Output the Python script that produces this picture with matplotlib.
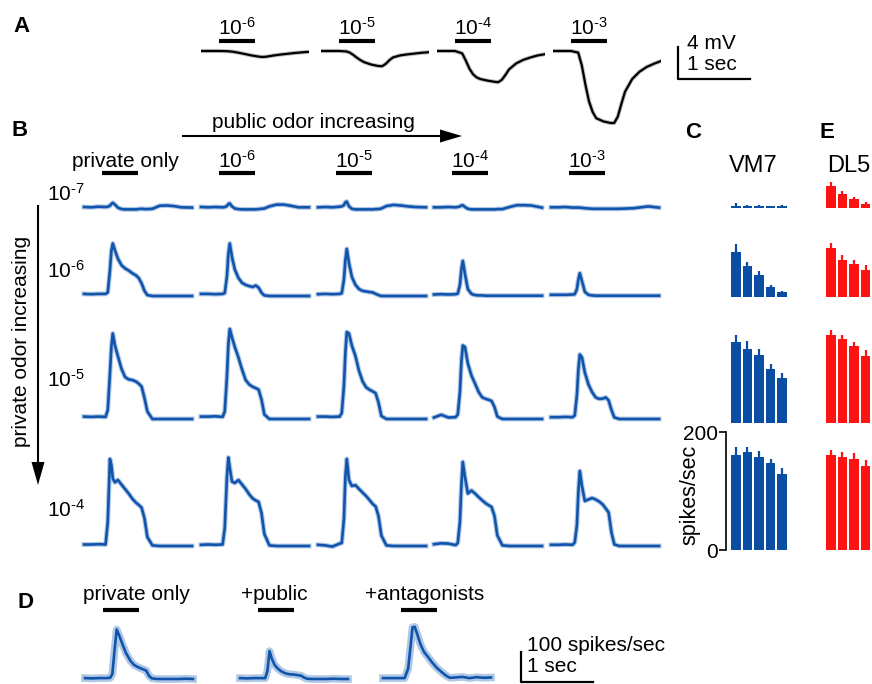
import matplotlib
matplotlib.use('Agg')
import matplotlib.pyplot as plt

plt.rcParams['font.family'] = ['Liberation Sans', 'DejaVu Sans']
plt.rcParams['mathtext.fontset'] = 'custom'
plt.rcParams['mathtext.rm'] = 'Liberation Sans'
plt.rcParams['mathtext.it'] = 'Liberation Sans:italic'
plt.rcParams['mathtext.bf'] = 'Liberation Sans:bold'

# ---------------- data ----------------
conc_public = [r'$10^{\text{-6}}$', r'$10^{\text{-5}}$', r'$10^{\text{-4}}$', r'$10^{\text{-3}}$']
conc_private = [r'$10^{\text{-7}}$', r'$10^{\text{-6}}$', r'$10^{\text{-5}}$', r'$10^{\text{-4}}$']
ODOR_ON, ODOR_OFF = 0.25, 0.75   # s

# Panel A: membrane potential (mV) vs time (s)
tA = [0, 0.25, 0.35, 0.4, 0.45, 0.5, 0.55, 0.6, 0.7, 0.8, 0.85, 0.9, 0.95, 1.0, 1.1, 1.2, 1.3, 1.4, 1.5]
vA_1 = [0, 0, -0.02, -0.05, -0.1, -0.18, -0.27, -0.36, -0.55, -0.7, -0.75, -0.72, -0.65, -0.57, -0.45, -0.35, -0.25, -0.17, -0.1]
vA_2 = [0, 0, -0.05, -0.2, -0.5, -0.85, -1.15, -1.4, -1.7, -1.88, -1.9, -1.6, -1.15, -0.8, -0.55, -0.42, -0.32, -0.22, -0.15]
vA_3 = [0, 0, -0.3, -1.2, -2.2, -2.9, -3.3, -3.5, -3.7, -3.85, -3.9, -3.6, -3.0, -2.3, -1.55, -1.1, -0.8, -0.55, -0.4]
vA_4 = [0, 0, -0.2, -1.8, -4.2, -6.3, -7.6, -8.4, -8.8, -9.0, -9.0, -8.2, -6.6, -5.1, -3.5, -2.6, -2.0, -1.6, -1.25]
SCALE_A_MV, SCALE_SEC = 4, 1

# Panel B: PSTHs (spikes/s); rows = private conc, cols = public conc
tB = [0.00, 0.10, 0.20, 0.30, 0.33, 0.36, 0.38, 0.40, 0.43, 0.47, 0.52, 0.57, 0.62,
      0.67, 0.72, 0.76, 0.80, 0.84, 0.88, 0.95, 1.05, 1.15, 1.25, 1.35, 1.50]
B_r1 = [
    [10, 9, 11, 10, 11, 14, 20, 24, 18, 8, 3, 2, 2, 2, 2, 3, 4, 3, 3, 4, 14, 15, 13, 9, 8],
    [10, 9, 10, 9, 10, 13, 20, 22, 12, 5, 3, 2, 2, 2, 2, 2, 3, 4, 5, 12, 18, 18, 14, 9, 9],
    [9, 10, 9, 11, 12, 16, 26, 28, 12, 4, 2, 2, 2, 2, 2, 2, 3, 3, 5, 13, 17, 15, 12, 10, 9],
    [9, 9, 10, 9, 10, 12, 15, 16, 10, 4, 2, 2, 2, 2, 2, 2, 2, 2, 3, 3, 10, 16, 16, 15, 8],
    [9, 9, 10, 8, 8, 8, 8, 8, 7, 6, 5, 4, 4, 4, 4, 4, 4, 4, 4, 4, 5, 6, 9, 12, 8],
]
B_r2 = [
    [7, 6, 7, 7, 12, 85, 150, 175, 152, 125, 103, 92, 85, 76, 69, 60, 42, 17, 3, 0, 0, 0, 0, 0, 0],
    [7, 7, 6, 7, 10, 65, 140, 175, 130, 88, 60, 44, 37, 33, 30, 35, 28, 11, 2, 0, 0, 0, 0, 0, 0],
    [6, 7, 6, 7, 9, 55, 120, 157, 110, 64, 37, 23, 17, 15, 13, 12, 7, 3, 0, 0, 0, 0, 0, 0, 0],
    [5, 6, 5, 6, 8, 37, 88, 117, 74, 23, 7, 3, 2, 2, 1, 1, 1, 1, 1, 1, 1, 1, 1, 1, 1],
    [4, 4, 4, 5, 6, 23, 55, 76, 50, 14, 4, 2, 1, 1, 1, 1, 1, 1, 1, 1, 1, 1, 1, 1, 1],
]
B_r3 = [
    [8, 7, 8, 7, 30, 150, 240, 285, 245, 210, 168, 140, 132, 130, 125, 118, 108, 70, 25, 0, 0, 0, 0, 0, 0],
    [8, 8, 9, 7, 25, 140, 250, 300, 272, 240, 205, 165, 130, 115, 107, 103, 98, 65, 15, 0, 0, 0, 0, 0, 0],
    [8, 8, 7, 8, 20, 110, 220, 290, 285, 245, 210, 160, 125, 105, 97, 92, 86, 55, 10, 0, 0, 0, 0, 0, 0],
    [5, 14, 5, 6, 15, 90, 190, 245, 240, 185, 145, 118, 90, 72, 67, 64, 60, 40, 8, 0, 0, 0, 0, 0, 0],
    [6, 6, 7, 6, 12, 80, 165, 215, 205, 155, 115, 90, 72, 67, 68, 72, 62, 30, 5, 0, 0, 0, 0, 0, 0],
]
B_r4 = [
    [5, 5, 6, 5, 80, 290, 270, 225, 212, 220, 205, 190, 175, 158, 145, 137, 128, 92, 30, 2, 0, 0, 0, 0, 0],
    [4, 5, 4, 5, 60, 230, 295, 260, 215, 210, 220, 205, 190, 172, 158, 152, 147, 110, 40, 2, 0, 0, 0, 0, 0],
    [4, 2, -2, 8, 10, 90, 230, 290, 220, 200, 203, 190, 178, 166, 152, 140, 132, 100, 35, 2, 0, 0, 0, 0, 0],
    [6, 9, 8, 3, 10, 80, 200, 280, 230, 175, 185, 175, 163, 152, 142, 136, 130, 100, 35, 2, 0, 0, 0, 0, 0],
    [4, 4, 5, 4, 12, 70, 180, 250, 200, 150, 155, 160, 155, 148, 138, 125, 112, 45, 5, 0, 0, 0, 0, 0, 0],
]
B_rows = [B_r1, B_r2, B_r3, B_r4]

# Panel C / E: mean spikes/s per row (private conc) x public conc
vm7 = [[4, 4, 4, 3, 3],
       [76, 53, 37, 17, 8],
       [137, 125, 115, 92, 76],
       [161, 166, 158, 147, 129]]
vm7_err = [[4, 1, 1, 1, 2],
           [14, 7, 7, 3, 3],
           [12, 14, 10, 8, 8],
           [14, 8, 10, 8, 10]]
dl5 = [[37, 24, 15, 7],
       [83, 63, 56, 46],
       [149, 142, 130, 114],
       [161, 158, 154, 142]]
dl5_err = [[7, 4, 4, 3],
           [8, 8, 7, 8],
           [8, 8, 8, 10],
           [8, 8, 10, 10]]

# Panel D
tD = [0.00, 0.10, 0.20, 0.30, 0.35, 0.38, 0.41, 0.44, 0.48, 0.52, 0.57, 0.63,
      0.68, 0.74, 0.80, 0.85, 0.89, 0.93, 1.00, 1.10, 1.20, 1.30, 1.40, 1.50]
D_private = [3, 2, 3, 3, 4, 17, 95, 165, 142, 116, 86, 61, 47, 39, 33, 28, 10, 2, 0, 0, 0, 0, 1, 0]
D_public = [3, 2, 3, 3, 3, 26, 93, 69, 47, 36, 26, 19, 16, 15, 13, 11, 5, 1, 0, 0, 0, 1, 0, 0]
D_antag = [3, 3, 3, 3, 35, 103, 172, 174, 146, 116, 90, 72, 56, 39, 26, 16, 9, 4, 5, 7, 3, 6, 4, 5]
D_labels = ['private only', '+public', '+antagonists']
D_label_t = [0.72, 0.48, 0.58]
SCALE_RATE = 100

# ---------------- styling / layout ----------------
BLUE = '#1055AB'
BLUE_L = '#8FB0DC'
BAR_BLUE = '#0A4EA3'
RED = '#FF1212'
FS = 15
W, H = 872, 684
PX_T = 72.0      # px per second
PX_R = 0.3       # px per spike/s
PX_MV = 8.0      # px per mV
PX_B = 0.59      # px per spike/s in bar plots

fig = plt.figure(figsize=(W / 100, H / 100), dpi=100)


def px_axes(x0, y_top, w, h):
    ax = fig.add_axes([x0 / W, 1 - (y_top + h) / H, w / W, h / H])
    ax.set_axis_off()
    return ax


def trace(ax, t, v, shade_w=4.5):
    ax.plot(t, v, color=BLUE_L, lw=shade_w, alpha=0.7, solid_joinstyle='round', clip_on=False)
    ax.plot(t, v, color=BLUE, lw=1.9, solid_joinstyle='round', clip_on=False)


def stim(ax, y, label, lx, ly):
    ax.plot([ODOR_ON, ODOR_OFF], [y, y], color='k', lw=3, solid_capstyle='butt', clip_on=False)
    ax.text(lx, ly, label, ha='center', va='center', fontsize=FS)


# overlay for annotations (pixel coords)
ov = fig.add_axes([0, 0, 1, 1])
ov.set_xlim(0, W)
ov.set_ylim(H, 0)
ov.set_axis_off()

# ---- Panel A ----
A_LEFT = [201, 321, 437, 553]
A_BASE = 51
for i, v in enumerate([vA_1, vA_2, vA_3, vA_4]):
    ax = px_axes(A_LEFT[i], A_BASE - 4 * PX_MV, 1.5 * PX_T, 14 * PX_MV)
    ax.set_xlim(0, 1.5)
    ax.set_ylim(-10, 4)
    ax.plot(tA, v, color='#999999', lw=3.0, alpha=0.6)
    ax.plot(tA, v, color='k', lw=1.6)
    stim(ax, 1.25, conc_public[i], 0.5, 2.9)

axs = px_axes(678, 79 - 5 * PX_MV, 1.5 * PX_T, 5 * PX_MV)
axs.set_xlim(0, 1.5)
axs.set_ylim(0, 5)
axs.plot([0, 0, SCALE_SEC], [SCALE_A_MV, 0, 0], color='k', lw=1.6, clip_on=False)
axs.text(0.12, 4.4, f'{SCALE_A_MV} mV', fontsize=FS, va='center', ha='left')
axs.text(0.12, 1.75, f'{SCALE_SEC} sec', fontsize=FS, va='center', ha='left')

# ---- Panel B ----
B_LEFT = [84, 201, 318, 434, 551]
B_BASE = [210, 296, 419, 546]
col_labels = ['private only'] + conc_public
for r in range(4):
    for c in range(5):
        ax = px_axes(B_LEFT[c], B_BASE[r] - 320 * PX_R, 1.5 * PX_T, 330 * PX_R)
        ax.set_xlim(0, 1.5)
        ax.set_ylim(-10, 320)
        trace(ax, tB, B_rows[r][c], shade_w=3.5)
        if r == 0:
            stim(ax, 125, col_labels[c], 0.58 if c == 0 else 0.5, 163)

row_label_y = [194, 271, 380, 510]
for r in range(4):
    ov.text(85, row_label_y[r], conc_private[r], ha='right', va='center', fontsize=FS)

# arrows
ov.plot([182, 445], [136, 136], color='k', lw=1.5, solid_capstyle='butt')
ov.fill([440, 462, 440], [129.5, 136, 142.5], color='k', lw=0)
ov.text(313, 122, 'public odor increasing', ha='center', va='center', fontsize=FS)
ov.plot([38, 38], [205, 468], color='k', lw=1.5, solid_capstyle='butt')
ov.fill([31.5, 38, 44.5], [462, 485, 462], color='k', lw=0)
ov.text(22, 341, 'private odor increasing', ha='center', va='center', fontsize=FS, rotation=90)

# ---- Panel C / E ----
C_BASE = [208, 297, 423, 550]
for r in range(4):
    for left, vals, errs, col in [(730, vm7[r], vm7_err[r], BAR_BLUE), (825, dl5[r], dl5_err[r], RED)]:
        ax = px_axes(left, C_BASE[r] - 215 * PX_B, 58, 215 * PX_B)
        ax.set_xlim(-0.5, 4.5)
        ax.set_ylim(0, 215)
        x = list(range(len(vals)))
        ax.bar(x, vals, width=0.82, color=col, edgecolor='none')
        ax.errorbar(x, vals, yerr=[[0] * len(vals), errs], fmt='none', ecolor=col,
                    elinewidth=1.6, capsize=0)
        if r == 3 and left == 730:
            ax.set_axis_on()
            for s in ['top', 'right', 'bottom']:
                ax.spines[s].set_visible(False)
            ax.spines['left'].set_bounds(0, 200)
            ax.spines['left'].set_position(('outward', 3))
            ax.spines['left'].set_linewidth(1.2)
            ax.set_xticks([])
            ax.set_yticks([0, 200])
            ax.tick_params(axis='y', length=5, width=1.2, labelsize=FS, pad=1)
            ax.patch.set_alpha(0)
ov.text(690, 495, 'spikes/sec', rotation=90, ha='center', va='center', fontsize=FS + 0.5)
ov.text(753, 166, 'VM7', ha='center', va='center', fontsize=17)
ov.text(849, 166, 'DL5', ha='center', va='center', fontsize=17)

# ---- Panel D ----
D_LEFT = [85, 240, 383]
D_BASE = 679
for i, v in enumerate([D_private, D_public, D_antag]):
    ax = px_axes(D_LEFT[i], D_BASE - 300 * PX_R, 1.5 * PX_T, 310 * PX_R)
    ax.set_xlim(0, 1.5)
    ax.set_ylim(-10, 300)
    trace(ax, tD, v, shade_w=5.5)
    stim(ax, 230, D_labels[i], D_label_t[i], 280)

axd = px_axes(521, 682 - 150 * PX_R, 1.5 * PX_T, 150 * PX_R)
axd.set_xlim(0, 1.5)
axd.set_ylim(0, 150)
axd.plot([0, 0, SCALE_SEC], [SCALE_RATE, 0, 0], color='k', lw=1.6, clip_on=False)
axd.text(0.09, 123, f'{SCALE_RATE} spikes/sec', fontsize=FS, va='center', ha='left')
axd.text(0.09, 53, f'{SCALE_SEC} sec', fontsize=FS, va='center', ha='left')

# panel letters
for letter, (x, y) in {'A': (21, 27), 'B': (20, 130), 'C': (693, 132),
                       'E': (827, 132), 'D': (25, 602)}.items():
    ov.text(x, y, letter, ha='center', va='center', fontsize=16, fontweight='bold')

fig.savefig('out.png', dpi=100)
